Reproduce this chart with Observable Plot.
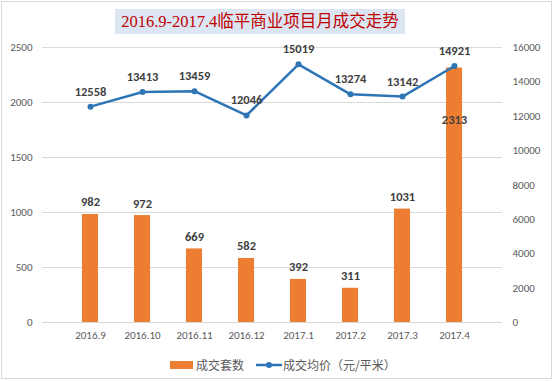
<!DOCTYPE html>
<html><head><meta charset="utf-8">
<script src="https://cdn.jsdelivr.net/npm/d3@7"></script>
<script src="https://cdn.jsdelivr.net/npm/@observablehq/plot@0.6"></script>
<style>
body{margin:0;background:#fff;}
#wrap{position:relative;width:554px;height:381px;overflow:hidden;font-family:"Noto Sans CJK SC","Noto Sans",sans-serif;}
#frame{position:absolute;left:1px;top:1px;width:551px;height:378px;border:1px solid #d9d9d9;box-sizing:border-box;}
#title{position:absolute;left:115px;top:9px;width:290px;height:25px;background:#dce6f2;color:#c00000;font-family:"Liberation Serif","Noto Sans CJK SC",serif;font-size:16.5px;line-height:25px;text-align:center;white-space:nowrap;}
#chart{position:absolute;left:0;top:0;}
#legend{position:absolute;top:357px;left:0;width:554px;height:16px;font-size:12px;color:#595959;}
.lg{position:absolute;top:0;line-height:16px;}
</style></head>
<body><div id="wrap"><div id="frame"></div><div id="chart"></div><div id="title">2016.9-2017.4临平商业项目月成交走势</div>
<div id="legend">
<div class="lg" style="left:170px;top:4px;width:23px;height:8px;background:#ed7d31"></div>
<div class="lg" style="left:196px">成交套数</div>
<svg class="lg" style="left:255px;top:0" width="28" height="16"><line x1="1" y1="8" x2="27" y2="8" stroke="#2e75b6" stroke-width="2.5"/><circle cx="14" cy="8" r="3" fill="#2e75b6"/></svg>
<div class="lg" style="left:283px">成交均价（元/平米）</div>
</div></div>
<script>
const months = ["2016.9","2016.10","2016.11","2016.12","2017.1","2017.2","2017.3","2017.4"];
const units = [982,972,669,582,392,311,1031,2313];
const prices = [12558,13413,13459,12046,15019,13274,13142,14921];
const leftTicks = [0,500,1000,1500,2000,2500];
const rightTicks = [0,2000,4000,6000,8000,10000,12000,14000,16000];

const k = 2500/16000;
const data = months.map((m,i)=>({m, u:units[i], p:prices[i], py:prices[i]*k}));

const chart = Plot.plot({
  width:554, height:352,
  marginTop:47, marginBottom:30, marginLeft:42, marginRight:52,
  style:{fontFamily:"Calibri, 'Liberation Sans', 'Noto Sans', sans-serif", fontSize:"11px", color:"#595959", background:"transparent"},
  x:{domain:months, padding:0.69, label:null},
  y:{domain:[0,2500], label:null},
  marks:[
    Plot.gridY(leftTicks,{stroke:"#d9d9d9", strokeOpacity:1}),
    Plot.axisY(leftTicks,{anchor:"left", tickSize:0, tickPadding:10, label:null, tickFormat:d=>String(d)}),
    Plot.axisY(rightTicks.map(v=>v*k),{anchor:"right", tickSize:0, tickPadding:10, label:null, tickFormat:d=>String(Math.round(d/k))}),
    Plot.axisX({tickSize:0, tickPadding:9, label:null}),
    Plot.barY(data,{x:"m", y:"u", fill:"#ed7d31"}),
    Plot.text(data.filter(d=>d.u<2000),{x:"m", y:"u", text:d=>String(d.u), dy:-12, fontWeight:"bold", fontSize:12.5, fill:"#404040"}),
    Plot.text(data.filter(d=>d.u>=2000),{x:"m", y:"u", text:d=>String(d.u), dy:52, fontWeight:"bold", fontSize:12.5, fill:"#404040"}),
    Plot.line(data,{x:"m", y:"py", stroke:"#2e75b6", strokeWidth:2.5}),
    Plot.dot(data,{x:"m", y:"py", r:3, fill:"#2e75b6"}),
    Plot.text(data,{x:"m", y:"py", text:d=>String(d.p), dy:-15, fontWeight:"bold", fontSize:12.5, fill:"#404040"})
  ]
});
document.getElementById("chart").appendChild(chart);
</script></body></html>
